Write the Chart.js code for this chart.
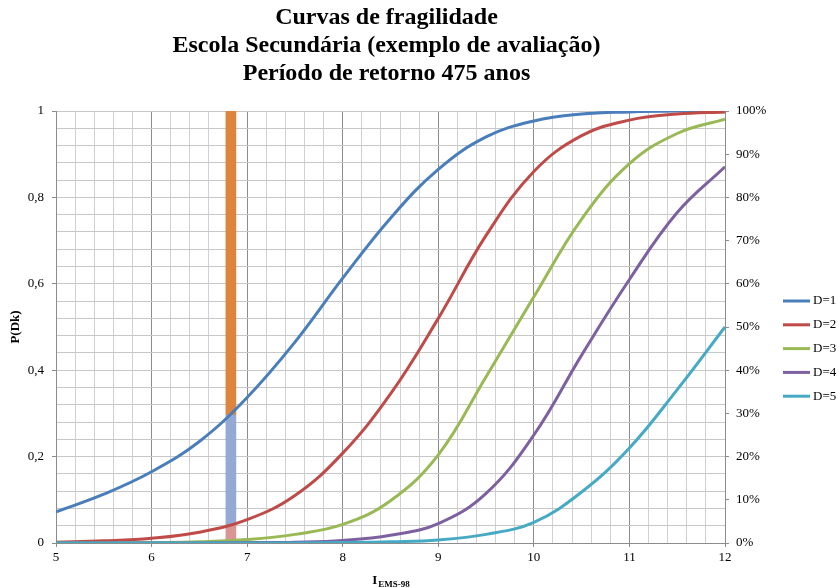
<!DOCTYPE html>
<html>
<head>
<meta charset="utf-8">
<title>Curvas de fragilidade</title>
<script src="https://cdn.jsdelivr.net/npm/chart.js@4.4.1/dist/chart.umd.min.js"></script>
<style>
  html, body { margin: 0; padding: 0; background: #fff; }
  #wrap { width: 838px; height: 588px; }
</style>
</head>
<body>
<div id="wrap"><canvas id="fragChart" width="838" height="588"></canvas></div>
<script>
// Intensity values (EMS-98) where the curves are sampled
const intensities = [5, 5.5, 6, 6.5, 7, 7.5, 8, 8.5, 9, 9.5, 10, 10.5, 11, 11.5, 12];

// P(Dk) for each damage grade
const probD1 = [0.072, 0.113, 0.165, 0.235, 0.337, 0.465, 0.613, 0.752, 0.865, 0.94, 0.977, 0.993, 0.998, 1.0, 1.0];
const probD2 = [0.002, 0.005, 0.011, 0.025, 0.054, 0.11, 0.208, 0.345, 0.52, 0.712, 0.86, 0.943, 0.979, 0.993, 0.998];
const probD3 = [0, 0, 0.001, 0.003, 0.008, 0.02, 0.043, 0.098, 0.204, 0.385, 0.57, 0.75, 0.878, 0.948, 0.981];
const probD4 = [0, 0, 0, 0, 0.001, 0.002, 0.006, 0.018, 0.045, 0.115, 0.25, 0.435, 0.61, 0.765, 0.871];
const probD5 = [0, 0, 0, 0, 0, 0, 0.001, 0.003, 0.007, 0.02, 0.048, 0.118, 0.22, 0.355, 0.5];

const seriesLabels = ['D=1', 'D=2', 'D=3', 'D=4', 'D=5'];
const seriesColors = ['#4A7EBB', '#BE4B48', '#98B954', '#7D60A0', '#46AAC5'];

// Intensity of the evaluated case and its probability band limits
const caseIntensity = 6.83;
const caseLevels = [0, 0.042, 0.296, 1];
const caseColors = ['#D99694', '#95A9D5', '#DD843F'];

const yTicks = [0, 0.2, 0.4, 0.6, 0.8, 1];
const pctTicks = [0, 10, 20, 30, 40, 50, 60, 70, 80, 90, 100];

const SERIF = "'Liberation Serif', 'Times New Roman', serif";

function isStep(v, step) {
    const r = v / step;
    return Math.abs(r - Math.round(r)) < 1e-6;
}

function tickIs(c, step) {
    return !!(c && c.tick && isStep(c.tick.value, step));
}

function toPoints(values) {
    return intensities.map((x, i) => ({ x: x, y: values[i] }));
}

const curves = [probD1, probD2, probD3, probD4, probD5].map((vals, i) => ({
    type: 'line',
    label: seriesLabels[i],
    data: toPoints(vals),
    borderColor: seriesColors[i],
    backgroundColor: seriesColors[i],
    borderWidth: 3,
    pointRadius: 0,
    tension: 0.4,
    fill: false,
    order: 5 - i,
    yAxisID: 'y'
}));

// stacked band at the evaluated intensity, drawn as floating bars
const bands = caseColors.map((c, i) => ({
    type: 'bar',
    label: 'band' + i,
    data: [{ x: caseIntensity, y: [caseLevels[i], caseLevels[i + 1]] }],
    backgroundColor: c,
    borderWidth: 0,
    barThickness: 10,
    grouped: false,
    order: 10,
    yAxisID: 'y'
}));

// x axis title with subscript + series key on the right
const extrasPlugin = {
    id: 'extras',
    afterDraw(chart) {
        const ctx = chart.ctx;
        const area = chart.chartArea;
        const cx = (area.left + area.right) / 2;
        ctx.save();
        ctx.fillStyle = '#000';
        ctx.textBaseline = 'alphabetic';
        const main = 'I';
        const sub = 'EMS-98';
        ctx.font = 'bold 9px ' + SERIF;
        const subW = ctx.measureText(sub).width;
        ctx.font = 'bold 13px ' + SERIF;
        const mainW = ctx.measureText(main).width;
        const x0 = cx - (mainW + subW) / 2;
        ctx.fillText(main, x0, 584);
        ctx.font = 'bold 9px ' + SERIF;
        ctx.fillText(sub, x0 + mainW + 1, 587);

        // legend
        const lx = area.right + 58;
        ctx.font = '13px ' + SERIF;
        ctx.textBaseline = 'middle';
        ctx.lineWidth = 3;
        seriesLabels.forEach((lab, i) => {
            const ly = 301 + i * 23.8;
            ctx.strokeStyle = seriesColors[i];
            ctx.beginPath();
            ctx.moveTo(lx, ly);
            ctx.lineTo(lx + 27, ly);
            ctx.stroke();
            ctx.fillText(lab, lx + 30, ly);
        });
        ctx.restore();
    }
};

new Chart(document.getElementById('fragChart'), {
    type: 'line',
    data: { datasets: curves.concat(bands) },
    options: {
        responsive: false,
        animation: false,
        devicePixelRatio: 1,
        layout: { padding: { left: 0, top: 0, bottom: 0, right: 65 } },
        plugins: {
            title: {
                display: true,
                text: ['Curvas de fragilidade', 'Escola Secundária (exemplo de avaliação)', 'Período de retorno 475 anos'],
                color: '#000',
                font: { family: SERIF, size: 24, weight: 'bold', lineHeight: 1.167 },
                padding: { top: 4, bottom: 23 }
            },
            legend: { display: false },
            tooltip: { enabled: false }
        },
        scales: {
            x: {
                type: 'linear',
                min: 5,
                max: 12,
                offset: false,
                afterFit: s => { s.height = 45; },
                afterBuildTicks: s => { s.ticks = Array.from({ length: 36 }, (_, i) => ({ value: 5 + i * 0.2 })); },
                ticks: {
                    autoSkip: false,
                    maxRotation: 0,
                    color: '#000',
                    padding: 3,
                    font: { family: SERIF, size: 13 },
                    callback: v => isStep(v, 1) ? String(Math.round(v)) : ''
                },
                grid: {
                    offset: false,
                    color: c => tickIs(c, 1) ? '#8C8C8C' : '#D0D0D0',
                    tickColor: c => tickIs(c, 1) ? '#8C8C8C' : 'rgba(0,0,0,0)',
                    tickLength: 4
                },
                border: { color: '#8C8C8C' }
            },
            y: {
                type: 'linear',
                position: 'left',
                min: 0,
                max: 1,
                afterFit: s => { s.width = 56; },
                title: {
                    display: true,
                    text: 'P(Dk)',
                    color: '#000',
                    font: { family: SERIF, size: 13, weight: 'bold' },
                    padding: { top: 8, bottom: 0 }
                },
                afterBuildTicks: s => { s.ticks = Array.from({ length: 26 }, (_, i) => ({ value: i * 0.04 })); },
                ticks: {
                    autoSkip: false,
                    color: '#000',
                    padding: 8,
                    font: { family: SERIF, size: 13 },
                    callback: v => {
                        if (!isStep(v, 0.2)) return '';
                        const t = yTicks.find(k => Math.abs(k - v) < 1e-6);
                        return String(t).replace('.', ',');
                    }
                },
                grid: {
                    color: '#C8C8C8',
                    tickColor: c => tickIs(c, 0.2) ? '#8C8C8C' : 'rgba(0,0,0,0)',
                    tickLength: 4
                },
                border: { color: '#8C8C8C' }
            },
            y2: {
                type: 'linear',
                position: 'right',
                min: 0,
                max: 100,
                afterFit: s => { s.width = 48; },
                afterBuildTicks: s => { s.ticks = pctTicks.map(v => ({ value: v })); },
                ticks: {
                    color: '#000',
                    padding: 7,
                    font: { family: SERIF, size: 13 },
                    callback: v => v + '%'
                },
                grid: {
                    drawOnChartArea: false,
                    color: '#8C8C8C',
                    tickLength: 4
                },
                border: { color: '#8C8C8C' }
            }
        }
    },
    plugins: [extrasPlugin]
});
</script>
</body>
</html>
